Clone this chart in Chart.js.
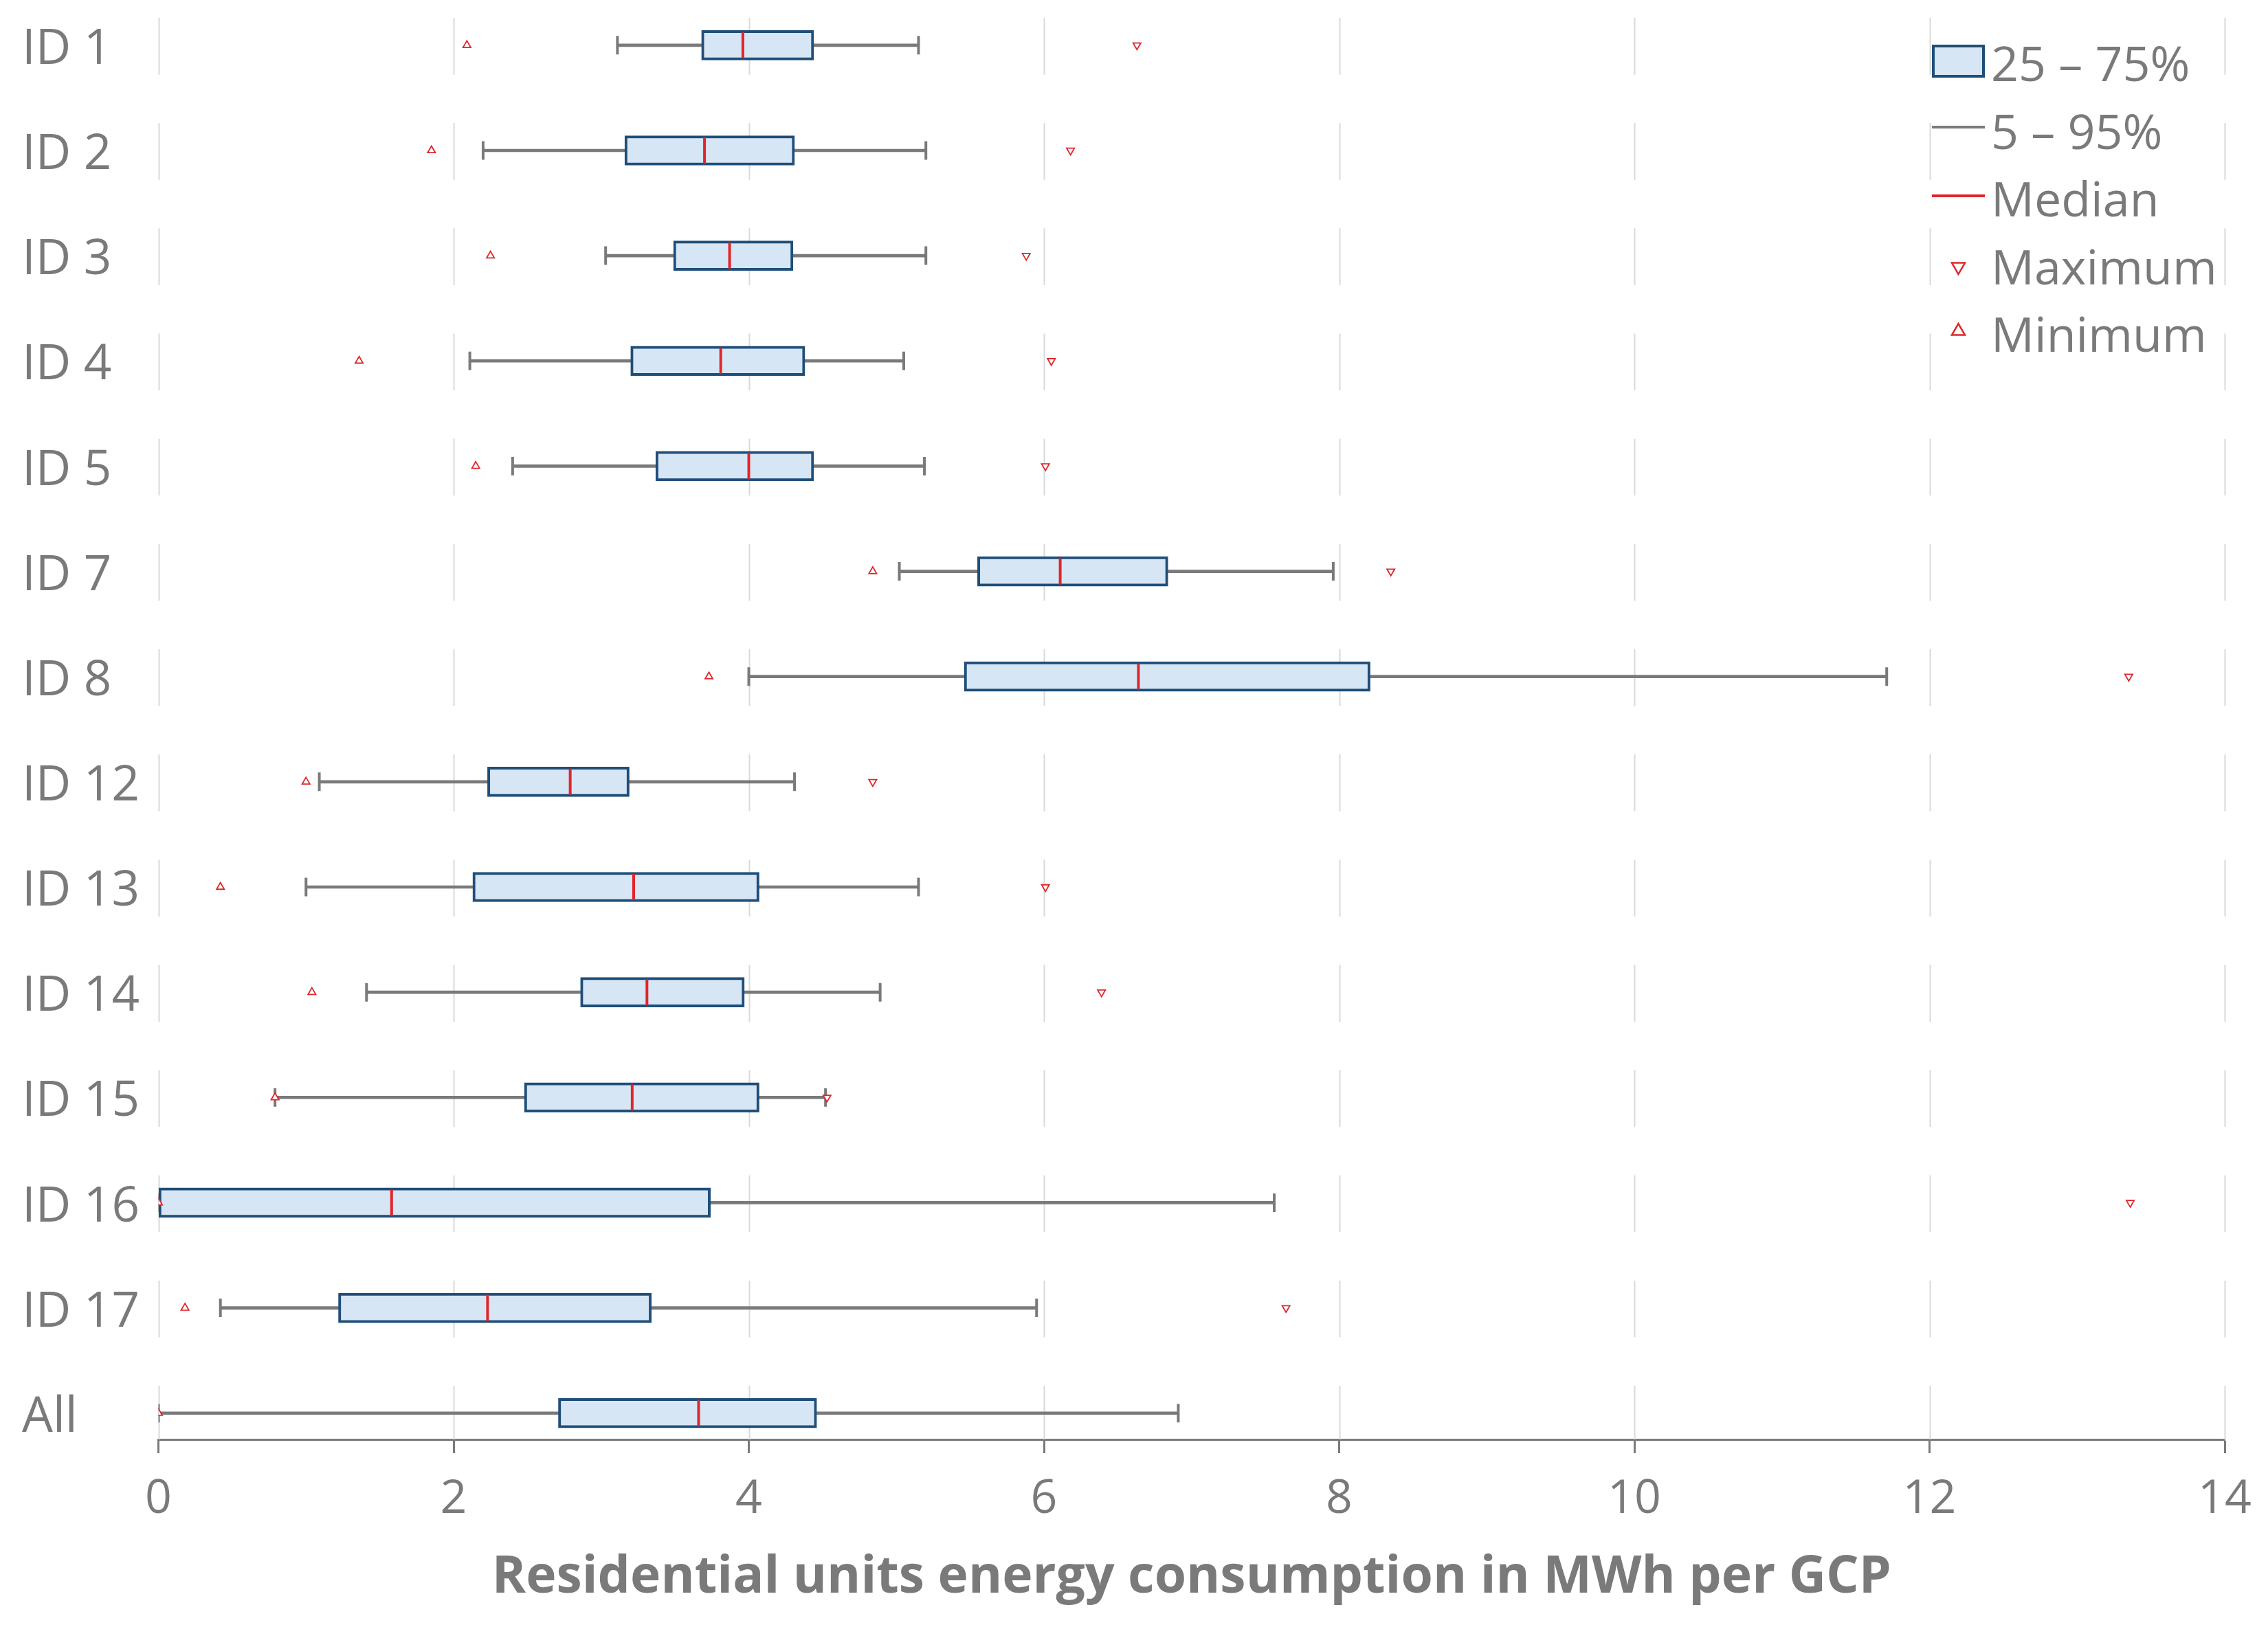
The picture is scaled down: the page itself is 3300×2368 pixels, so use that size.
<!DOCTYPE html>
<html>
<head>
<meta charset="utf-8">
<script src="https://cdn.jsdelivr.net/npm/chart.js@4.4.1/dist/chart.umd.min.js"></script>
<style>
  html, body { margin: 0; padding: 0; background: #ffffff; }
  #wrap { width: 3300px; height: 2368px; }
</style>
</head>
<body>
<div id="wrap"><canvas id="boxChart" width="3300" height="2368"></canvas></div>
<script>
// values (MWh per GCP)
const categories = ['ID 1', 'ID 2', 'ID 3', 'ID 4', 'ID 5', 'ID 7', 'ID 8', 'ID 12', 'ID 13', 'ID 14', 'ID 15', 'ID 16', 'ID 17', 'All'];
const p5     = [3.11, 2.20, 3.03, 2.11, 2.40, 5.02, 4.00, 1.09, 1.00, 1.41, 0.79, 0.00, 0.42, 0.00];
const q1     = [3.68, 3.16, 3.49, 3.20, 3.37, 5.55, 5.46, 2.23, 2.13, 2.86, 2.48, 0.00, 1.22, 2.71];
const median = [3.96, 3.70, 3.87, 3.81, 4.00, 6.11, 6.64, 2.79, 3.22, 3.31, 3.21, 1.58, 2.23, 3.66];
const q3     = [4.44, 4.31, 4.30, 4.38, 4.44, 6.84, 8.21, 3.19, 4.07, 3.97, 4.07, 3.74, 3.34, 4.46];
const p95    = [5.15, 5.20, 5.20, 5.05, 5.19, 7.96, 11.71, 4.31, 5.15, 4.89, 4.52, 7.56, 5.95, 6.91];
const maxima = [6.63, 6.18, 5.88, 6.05, 6.01, 8.35, 13.35, 4.84, 6.01, 6.39, 4.53, 13.36, 7.64, null];
const minima = [2.09, 1.85, 2.25, 1.36, 2.15, 4.84, 3.73, 1.00, 0.42, 1.04, 0.79, 0.00, 0.18, 0.00];
const xTicks = [0, 2, 4, 6, 8, 10, 12, 14];
const legendLabels = ['25 \u2013 75%', '5 \u2013 95%', 'Median', 'Maximum', 'Minimum'];

const GREY = '#7a7a7a';
const RED = '#e0262b';
const BOX_EDGE = '#1f4e79';
const BOX_FILL = '#d7e6f5';
const FONT = "'Open Sans', sans-serif";

const toPoints = (arr) => arr.map((v, i) => ({ x: v, y: i }));
const toRanges = (lo, hi) => lo.map((v, i) => ({ x: [v, hi[i]], y: i }));

// vertical grid drawn as short pieces, one per row, like the original
const rowGridPlugin = {
    id: 'rowGrid',
    beforeDatasetsDraw(chart) {
        const ctx = chart.ctx;
        const xs = chart.scales.x;
        const ys = chart.scales.y;
        const area = chart.chartArea;
        ctx.save();
        ctx.strokeStyle = '#d9d9d9';
        ctx.lineWidth = 2;
        xTicks.forEach(function (t) {
            const px = Math.round(xs.getPixelForValue(t)) + 0.5;
            categories.forEach(function (c, i) {
                const y1 = Math.max(area.top, ys.getPixelForValue(i - 0.26));
                const y2 = Math.min(area.bottom, ys.getPixelForValue(i + 0.28));
                ctx.beginPath();
                ctx.moveTo(px, y1);
                ctx.lineTo(px, y2);
                ctx.stroke();
            });
        });
        ctx.restore();
    }
};

// legend in the top right corner of the plot
const cornerLegendPlugin = {
    id: 'cornerLegend',
    afterDraw(chart) {
        const ctx = chart.ctx;
        const right = chart.chartArea.right;
        const symLeft = right - 426;
        const symRight = right - 349;
        const textX = right - 340;
        const base = 118;
        const step = 98.5;
        ctx.save();
        ctx.font = '70px ' + FONT;
        ctx.fillStyle = GREY;
        ctx.textAlign = 'left';
        ctx.textBaseline = 'alphabetic';
        legendLabels.forEach(function (label, k) {
            ctx.fillText(label, textX, base + step * k);
        });

        // box symbol
        ctx.fillStyle = BOX_FILL;
        ctx.fillRect(symLeft, 65, symRight - symLeft, 48);
        ctx.strokeStyle = BOX_EDGE;
        ctx.lineWidth = 4;
        ctx.strokeRect(symLeft + 2, 67, symRight - symLeft - 4, 44);

        // whisker and median lines
        ctx.lineWidth = 4;
        ctx.strokeStyle = GREY;
        ctx.beginPath();
        ctx.moveTo(symLeft, 185);
        ctx.lineTo(symRight, 185);
        ctx.stroke();
        ctx.strokeStyle = RED;
        ctx.beginPath();
        ctx.moveTo(symLeft, 285);
        ctx.lineTo(symRight, 285);
        ctx.stroke();

        // triangles
        const cx = (symLeft + symRight) / 2;
        const opts = { pointStyle: 'triangle', radius: 11, rotation: 180, borderWidth: 2.5 };
        ctx.strokeStyle = RED;
        ctx.fillStyle = '#ffffff';
        ctx.lineWidth = 2.5;
        Chart.helpers.drawPoint(ctx, opts, cx, 388);
        Chart.helpers.drawPoint(ctx, Object.assign({}, opts, { rotation: 0 }), cx, 482);
        ctx.restore();
    }
};

const pointBase = {
    type: 'scatter',
    showLine: false,
    pointHoverRadius: 0
};

const config = {
    type: 'bar',
    data: {
        datasets: [
            Object.assign({}, pointBase, {
                label: 'Median',
                data: toPoints(median),
                pointStyle: 'line',
                rotation: 90,
                radius: 19,
                borderWidth: 4,
                borderColor: RED,
                order: 0
            }),
            Object.assign({}, pointBase, {
                label: 'Maximum',
                data: toPoints(maxima),
                pointStyle: 'triangle',
                rotation: 180,
                radius: 6.5,
                borderWidth: 1.8,
                borderColor: RED,
                backgroundColor: '#ffffff',
                order: 1
            }),
            Object.assign({}, pointBase, {
                label: 'Minimum',
                data: toPoints(minima),
                pointStyle: 'triangle',
                rotation: 0,
                radius: 6.5,
                borderWidth: 1.8,
                borderColor: RED,
                backgroundColor: '#ffffff',
                order: 1
            }),
            {
                type: 'bar',
                label: '25 \u2013 75%',
                indexAxis: 'y',
                grouped: false,
                data: toRanges(q1, q3),
                barThickness: 43,
                backgroundColor: BOX_FILL,
                borderColor: BOX_EDGE,
                borderWidth: 4,
                borderSkipped: false,
                order: 2
            },
            Object.assign({}, pointBase, {
                label: '5%',
                data: toPoints(p5),
                pointStyle: 'line',
                rotation: 90,
                radius: 13.5,
                borderWidth: 4,
                borderColor: GREY,
                order: 3
            }),
            Object.assign({}, pointBase, {
                label: '95%',
                data: toPoints(p95),
                pointStyle: 'line',
                rotation: 90,
                radius: 13.5,
                borderWidth: 4,
                borderColor: GREY,
                order: 3
            }),
            {
                type: 'bar',
                label: '5 \u2013 95%',
                indexAxis: 'y',
                grouped: false,
                data: toRanges(p5, p95),
                barThickness: 4,
                backgroundColor: GREY,
                borderWidth: 0,
                order: 4
            }
        ]
    },
    plugins: [rowGridPlugin, cornerLegendPlugin],
    options: {
        responsive: false,
        devicePixelRatio: 1,
        animation: false,
        events: [],
        layout: { padding: { left: 32, top: 26, right: 63, bottom: 0 } },
        plugins: {
            legend: { display: false },
            tooltip: { enabled: false },
            title: { display: false }
        },
        scales: {
            x: {
                type: 'linear',
                position: 'bottom',
                offset: false,
                min: 0,
                max: 14,
                grid: {
                    offset: false,
                    drawOnChartArea: false,
                    drawTicks: true,
                    tickLength: 20,
                    tickWidth: 3,
                    tickColor: GREY
                },
                border: { display: true, color: GREY, width: 3 },
                ticks: {
                    stepSize: 2,
                    color: GREY,
                    padding: 27,
                    font: { family: FONT, size: 68 }
                },
                title: {
                    display: true,
                    text: 'Residential units energy consumption in MWh per GCP',
                    color: GREY,
                    font: { family: FONT, size: 75, weight: 'bold' },
                    padding: { top: 0, bottom: 26 }
                },
                afterFit(scale) {
                    scale.height = 273;
                    scale.paddingLeft = 0;
                    scale.paddingRight = 0;
                }
            },
            y: {
                type: 'linear',
                offset: false,
                reverse: true,
                min: -0.26,
                max: 13.25,
                grid: { display: false, offset: false },
                border: { display: false },
                afterBuildTicks(scale) {
                    scale.ticks = categories.map((c, i) => ({ value: i }));
                },
                ticks: {
                    autoSkip: false,
                    crossAlign: 'far',
                    padding: 0,
                    labelOffset: 7,
                    color: GREY,
                    font: { family: FONT, size: 71 },
                    callback: (value) => categories[value]
                },
                afterFit(scale) {
                    scale.width = 198.5;
                    scale.paddingTop = 0;
                    scale.paddingBottom = 0;
                }
            }
        }
    }
};

const chart = new Chart(document.getElementById('boxChart'), config);
</script>
</body>
</html>
